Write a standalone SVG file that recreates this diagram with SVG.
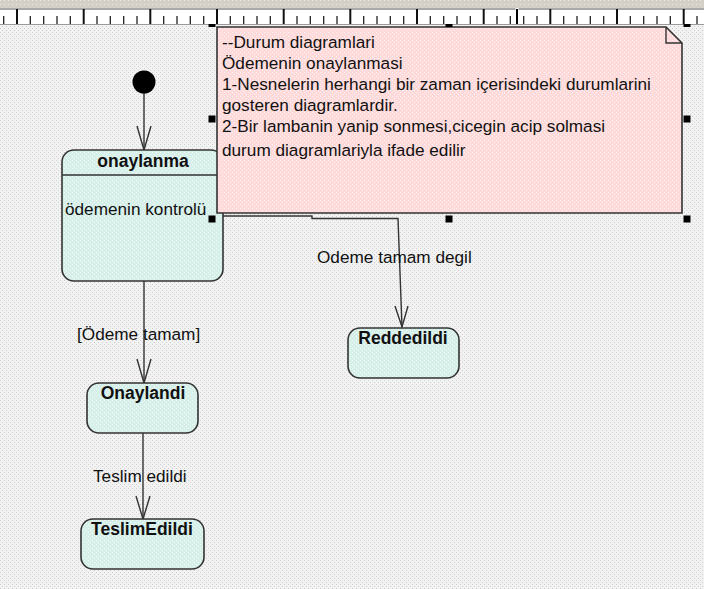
<svg xmlns="http://www.w3.org/2000/svg" width="704" height="589" viewBox="0 0 704 589">
<style>
text{font-family:"Liberation Sans",Arial,sans-serif;font-size:17.2px;fill:#111}
.t{font-weight:bold;font-size:17.5px;text-anchor:middle}
.st{fill:url(#pS);stroke:#333;stroke-width:1.6}
.ln{fill:none;stroke:#333;stroke-width:1.4}
.h{fill:#000}
.tk{stroke:#222;stroke-width:1.3}
.mj{stroke:#111;stroke-width:2}
</style>
<defs>
<pattern id="pBg" width="4" height="4" patternUnits="userSpaceOnUse">
<rect width="4" height="4" fill="#f2f2f2"/>
<rect x="0" y="0" width="1" height="1" fill="#d0d0d0"/>
<rect x="2" y="2" width="1" height="1" fill="#d0d0d0"/>
</pattern>
<pattern id="pS" width="4" height="4" patternUnits="userSpaceOnUse">
<rect width="4" height="4" fill="#d6efe9"/>
<rect x="0" y="0" width="1" height="1" fill="#f0faf8"/>
<rect x="2" y="2" width="1" height="1" fill="#f0faf8"/>
</pattern>
<pattern id="pN" width="4" height="4" patternUnits="userSpaceOnUse">
<rect width="4" height="4" fill="#ffdada"/>
<rect x="0" y="0" width="1" height="1" fill="#fff2f2"/>
<rect x="2" y="2" width="1" height="1" fill="#fff2f2"/>
</pattern>
<pattern id="pTop" width="4" height="4" patternUnits="userSpaceOnUse">
<rect width="4" height="4" fill="#d4d0c8"/>
<rect x="0" y="0" width="1" height="1" fill="#eee8d8"/>
</pattern>
</defs>
<rect width="704" height="589" fill="url(#pBg)"/>

<!-- top strip and ruler -->
<rect x="0" y="0" width="704" height="8" fill="url(#pTop)"/>
<rect x="0" y="8" width="704" height="16" fill="#ffffff"/>
<line x1="0" y1="9" x2="704" y2="9" stroke="#555" stroke-width="1"/>
<g id="ruler">
<g class="mj">
<line x1="17" y1="9" x2="17" y2="24"/><line x1="83.7" y1="9" x2="83.7" y2="24"/><line x1="150.3" y1="9" x2="150.3" y2="24"/><line x1="217" y1="9" x2="217" y2="24"/><line x1="283.7" y1="9" x2="283.7" y2="24"/><line x1="350.3" y1="9" x2="350.3" y2="24"/><line x1="417" y1="9" x2="417" y2="24"/><line x1="483.7" y1="9" x2="483.7" y2="24"/><line x1="550.3" y1="9" x2="550.3" y2="24"/><line x1="617" y1="9" x2="617" y2="24"/><line x1="683.7" y1="9" x2="683.7" y2="24"/>
</g>
<g class="tk">
<line x1="3.7" y1="16" x2="3.7" y2="24"/>
<line x1="30.3" y1="16" x2="30.3" y2="24"/><line x1="43.7" y1="16" x2="43.7" y2="24"/><line x1="57" y1="16" x2="57" y2="24"/><line x1="70.3" y1="16" x2="70.3" y2="24"/>
<line x1="97" y1="16" x2="97" y2="24"/><line x1="110.3" y1="16" x2="110.3" y2="24"/><line x1="123.7" y1="16" x2="123.7" y2="24"/><line x1="137" y1="16" x2="137" y2="24"/>
<line x1="163.7" y1="16" x2="163.7" y2="24"/><line x1="177" y1="16" x2="177" y2="24"/><line x1="190.3" y1="16" x2="190.3" y2="24"/><line x1="203.7" y1="16" x2="203.7" y2="24"/>
<line x1="230.3" y1="16" x2="230.3" y2="24"/><line x1="243.7" y1="16" x2="243.7" y2="24"/><line x1="257" y1="16" x2="257" y2="24"/><line x1="270.3" y1="16" x2="270.3" y2="24"/>
<line x1="297" y1="16" x2="297" y2="24"/><line x1="310.3" y1="16" x2="310.3" y2="24"/><line x1="323.7" y1="16" x2="323.7" y2="24"/><line x1="337" y1="16" x2="337" y2="24"/>
<line x1="363.7" y1="16" x2="363.7" y2="24"/><line x1="377" y1="16" x2="377" y2="24"/><line x1="390.3" y1="16" x2="390.3" y2="24"/><line x1="403.7" y1="16" x2="403.7" y2="24"/>
<line x1="430.3" y1="16" x2="430.3" y2="24"/><line x1="443.7" y1="16" x2="443.7" y2="24"/><line x1="457" y1="16" x2="457" y2="24"/><line x1="470.3" y1="16" x2="470.3" y2="24"/>
<line x1="497" y1="16" x2="497" y2="24"/><line x1="510.3" y1="16" x2="510.3" y2="24"/><line x1="523.7" y1="16" x2="523.7" y2="24"/><line x1="537" y1="16" x2="537" y2="24"/>
<line x1="563.7" y1="16" x2="563.7" y2="24"/><line x1="577" y1="16" x2="577" y2="24"/><line x1="590.3" y1="16" x2="590.3" y2="24"/><line x1="603.7" y1="16" x2="603.7" y2="24"/>
<line x1="630.3" y1="16" x2="630.3" y2="24"/><line x1="643.7" y1="16" x2="643.7" y2="24"/><line x1="657" y1="16" x2="657" y2="24"/><line x1="670.3" y1="16" x2="670.3" y2="24"/>
<line x1="697" y1="16" x2="697" y2="24"/>
</g>
<rect x="515.5" y="8" width="3" height="17" fill="#fff"/>
<line x1="517" y1="9" x2="517" y2="24" stroke="#000" stroke-width="2"/>
</g>
<line x1="0" y1="24.5" x2="704" y2="24.5" stroke="#9a9a9a" stroke-width="1"/>

<!-- connectors -->
<g id="connectors">
<line class="ln" x1="144" y1="93" x2="144" y2="150"/>
<polyline class="ln" points="137,126 144,150 151,126"/>
<line class="ln" x1="144" y1="281" x2="144" y2="383"/>
<polyline class="ln" points="137,359 144,383 151,359"/>
<line class="ln" x1="143" y1="433" x2="143" y2="519"/>
<polyline class="ln" points="136,496 143,519 150,496"/>
<polyline class="ln" points="223,216 312,216 312,218.5 398,218.5 402,327"/>
<polyline class="ln" points="395,306 402,327 408,306"/>
<text x="77" y="340">[Ödeme tamam]</text>
<text x="93" y="482">Teslim edildi</text>
<text x="317" y="263">Odeme tamam degil</text>
</g>

<g id="start">
<circle cx="144" cy="82" r="11.5" fill="#000"/>
</g>

<g id="onaylanma">
<rect class="st" x="62" y="150" width="161" height="131" rx="12"/>
<line x1="62" y1="175" x2="223" y2="175" stroke="#333" stroke-width="1.4"/>
<text class="t" x="143" y="167">onaylanma</text>
<text x="65" y="215">ödemenin kontrolü</text>
</g>

<g id="onaylandi">
<rect class="st" x="87" y="383" width="111" height="50" rx="12"/>
<text class="t" x="143" y="399">Onaylandi</text>
</g>

<g id="teslimedildi">
<rect class="st" x="81" y="519" width="123" height="50" rx="12"/>
<text class="t" x="142" y="535">TeslimEdildi</text>
</g>

<g id="reddedildi">
<rect class="st" x="348" y="328" width="111" height="50" rx="12"/>
<text class="t" x="403" y="344">Reddedildi</text>
</g>

<g id="note">
<path d="M217,27 H666 L682,43 V213 H217 Z" fill="url(#pN)" stroke="#333" stroke-width="1.6"/>
<path d="M666,27 V43 H682" fill="none" stroke="#333" stroke-width="1.4"/>
<text x="222" y="48">--Durum diagramlari</text>
<text x="222" y="69">Ödemenin onaylanmasi</text>
<text x="222" y="90">1-Nesnelerin herhangi bir zaman içerisindeki durumlarini</text>
<text x="222" y="111">gosteren diagramlardir.</text>
<text x="222" y="132">2-Bir lambanin yanip sonmesi,cicegin acip solmasi</text>
<text x="222" y="156">durum diagramlariyla ifade edilir</text>
</g>

<g id="handles">
<rect class="h" x="208.5" y="24" width="7" height="3"/>
<rect class="h" x="445.5" y="24" width="7" height="3"/>
<rect class="h" x="683.5" y="24" width="7" height="3"/>
<rect class="h" x="208.5" y="115.5" width="7" height="7"/>
<rect class="h" x="683.5" y="115.5" width="7" height="7"/>
<rect class="h" x="208.5" y="215.5" width="7" height="7"/>
<rect class="h" x="445.5" y="215.5" width="7" height="7"/>
<rect class="h" x="683.5" y="215.5" width="7" height="7"/>
</g>
</svg>
